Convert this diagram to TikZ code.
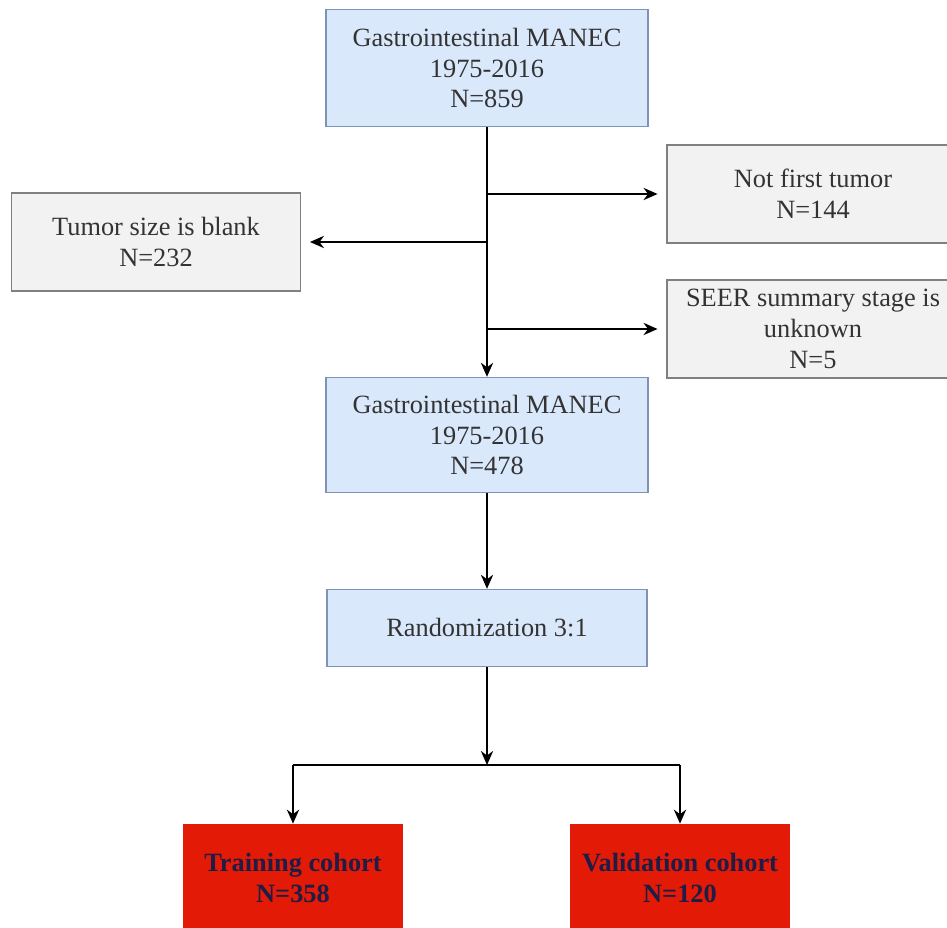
\documentclass[tikz,border=0pt]{standalone}
\usepackage{fontspec}
\setmainfont{Liberation Serif}
\usetikzlibrary{arrows.meta}
\definecolor{boxblue}{HTML}{DAE8FC}
\definecolor{lineblue}{HTML}{7F93B5}
\definecolor{boxgray}{HTML}{F2F2F2}
\definecolor{linegray}{HTML}{808080}
\definecolor{boxred}{HTML}{E31A06}
\definecolor{textgray}{HTML}{333333}
\definecolor{textnavy}{HTML}{1F1D45}
\begin{document}
\begin{tikzpicture}[x=0.02cm,y=-0.02cm,
  every node/.style={font=\fontsize{15}{17.6}\selectfont},
  bluebox/.style={draw=lineblue,line width=0.8pt,fill=boxblue,text=textgray,align=center,inner sep=0pt},
  graybox/.style={draw=linegray,line width=0.8pt,fill=boxgray,text=textgray,align=center,inner sep=0pt},
  redbox/.style={fill=boxred,text=textnavy,font=\fontsize{15}{17.6}\selectfont\bfseries,align=center,inner sep=0pt,
    minimum width=4.4cm,minimum height=2.16cm},
  link/.style={-{Stealth[length=8pt,width=7pt]},line width=0.9pt},
  line/.style={line width=0.9pt}]
  \useasboundingbox (0,0) rectangle (947,928);
  \clip (0,0) rectangle (947,928);

  % boxes
  \node[bluebox,minimum width=6.44cm,minimum height=2.34cm] (src) at (487,68) {Gastrointestinal MANEC\\1975-2016\\N=859};
  \node[graybox,minimum width=5.78cm,minimum height=1.96cm] (size) at (156,242) {Tumor size is blank\\N=232};
  \node[graybox,minimum width=5.84cm,minimum height=1.96cm] (notfirst) at (813,194) {Not first tumor\\N=144};
  \node[graybox,minimum width=5.84cm,minimum height=1.96cm] (seer) at (813,329) {SEER summary stage is\\unknown\\N=5};
  \node[bluebox,minimum width=6.44cm,minimum height=2.30cm] (kept) at (487,435) {Gastrointestinal MANEC\\1975-2016\\N=478};
  \node[bluebox,minimum width=6.40cm,minimum height=1.54cm] (rand) at (487,628) {Randomization 3:1};
  \node[redbox] (train) at (293,878) {Training cohort\\N=358};
  \node[redbox] (valid) at (680,878) {Validation cohort\\N=120};

  % trunk and branches
  \coordinate (j1) at (487,194);
  \coordinate (j2) at (487,242);
  \coordinate (j3) at (487,329);
  \coordinate (split) at (487,765);
  \coordinate (tl) at (293,765);
  \coordinate (tr) at (680,765);
  \draw[link] (src.south) -- (kept.north);
  \draw[link,shorten >=5pt] (j1) -- (notfirst.west);
  \draw[link,shorten >=5pt] (j2) -- (size.east);
  \draw[link,shorten >=5pt] (j3) -- (seer.west);
  \draw[link] (kept.south) -- (rand.north);
  \draw[link] (rand.south) -- (split);
  \draw[line] (tl) -- (tr);
  \draw[link] (tl) -- (train.north);
  \draw[link] (tr) -- (valid.north);
\end{tikzpicture}
\end{document}
